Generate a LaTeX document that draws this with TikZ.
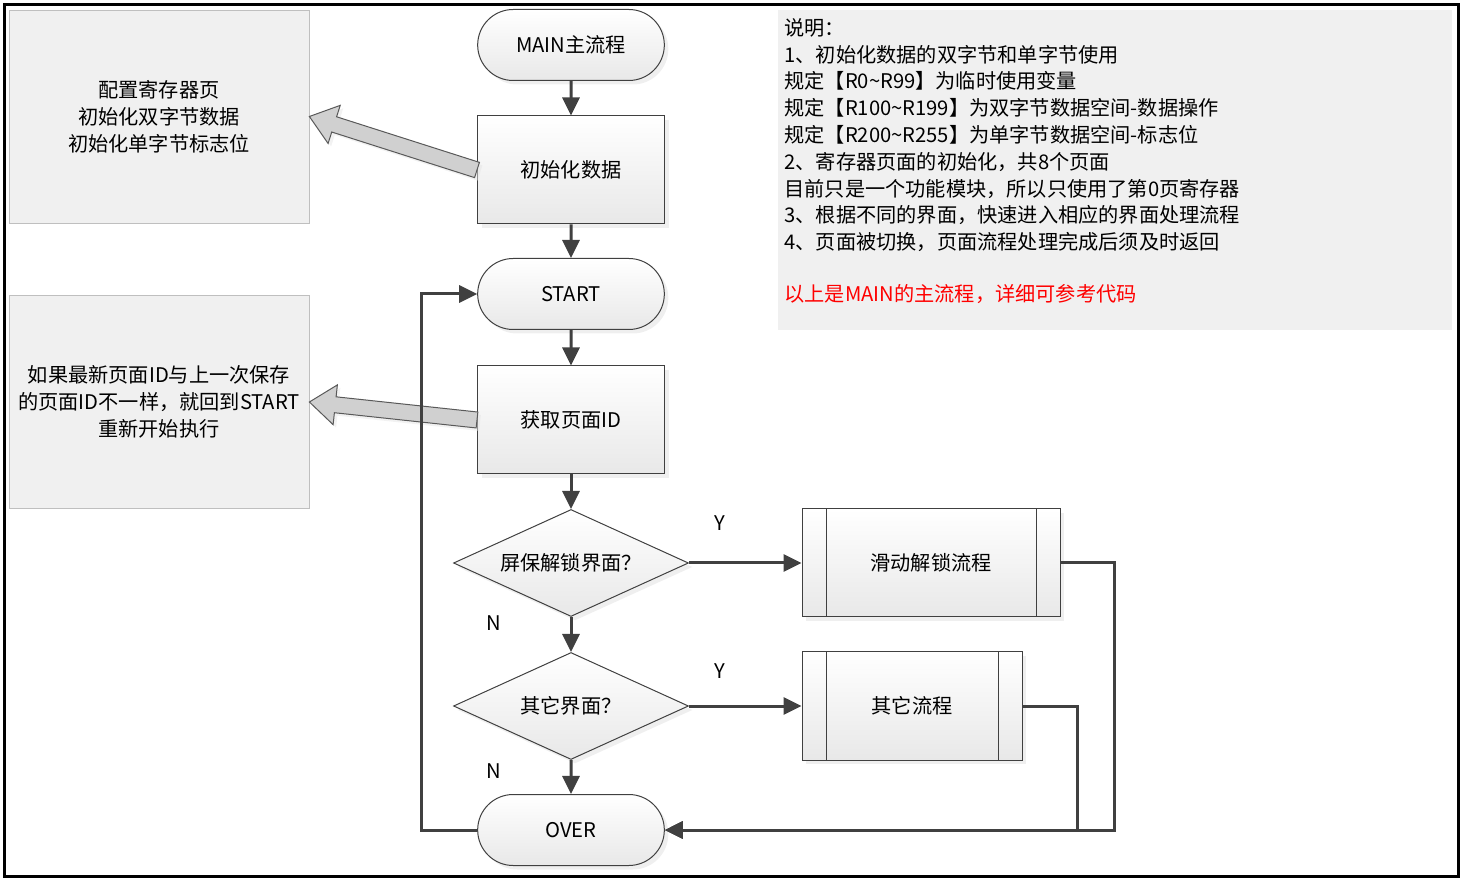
\documentclass[tikz,border=0pt]{standalone}
\usepackage{fontspec}
\setmainfont{Noto Sans CJK SC}
\usetikzlibrary{shapes.geometric, shapes.misc, arrows.meta, positioning, calc, shadows}
\definecolor{linegray}{HTML}{404040}
\definecolor{notegray}{HTML}{F0F0F0}
\definecolor{noteedge}{HTML}{BFBFBF}
\definecolor{fatgray}{HTML}{D0D0D0}
\tikzset{
  every node/.style={font=\fontsize{10.1}{13.4}\selectfont},
  shaded/.style={top color=white, bottom color=black!9, draw=linegray, line width=0.5pt,
    drop shadow={shadow xshift=2pt, shadow yshift=-2pt, fill=black!12}},
  term/.style={shaded, rounded rectangle, minimum width=100pt, minimum height=35.5pt},
  block/.style={shaded, rectangle, minimum width=93.5pt, minimum height=54pt},
  decision/.style={shaded, diamond, aspect=2.2, inner sep=0pt, minimum width=117.5pt, minimum height=53.5pt},
  subproc/.style={shaded, rectangle, minimum height=54pt,
    path picture={\draw[linegray, line width=0.5pt]
      ([xshift=12pt]path picture bounding box.north west) -- ([xshift=12pt]path picture bounding box.south west)
      ([xshift=-12pt]path picture bounding box.north east) -- ([xshift=-12pt]path picture bounding box.south east);}},
  note/.style={draw=noteedge, fill=notegray, rectangle, align=center, minimum width=150pt, minimum height=106.5pt},
  flow/.style={draw=linegray, line width=1.5pt, -{Triangle[length=9pt,width=8.5pt]}},
  fatarrow/.style={draw=black!65, fill=fatgray, line width=0.5pt, line join=miter,
    drop shadow={shadow xshift=1.5pt, shadow yshift=-1.5pt, fill=black!10}},
}
% broad grey arrow from a box to a note
\newcommand{\fatarrow}[2]{%
  \coordinate (hb) at ($(#2)!13pt!(#1)$);
  \draw[fatarrow] ($(#1)!4pt!90:(#2)$) -- ($(hb)!4pt!90:(#2)$) -- ($(hb)!10pt!90:(#2)$) -- (#2)
    -- ($(hb)!10pt!-90:(#2)$) -- ($(hb)!4pt!-90:(#2)$) -- ($(#1)!4pt!-90:(#2)$) -- cycle;}

\begin{document}
\begin{tikzpicture}[x=0.5pt, y=-0.5pt, node distance=62.5pt]
    \useasboundingbox (0,0) rectangle (1462,881);
    \draw[line width=1.5pt] (4,5) rectangle (1458,876);

    % main flow
    \node[term] (main) at (571,45) {MAIN主流程};
    \node[block, below of=main] (init) {初始化数据};
    \node[term, below of=init, node distance=62pt] (start) {START};
    \node[block, below of=start, node distance=63pt] (getid) {获取页面ID};
    \node[decision, below of=getid, node distance=71.5pt] (scr) {屏保解锁界面？};
    \node[decision, below of=scr, node distance=71.5pt] (other) {其它界面？};
    \node[term, below of=other, node distance=62pt] (over) {OVER};
    \node[subproc, right of=scr, node distance=180pt, minimum width=129pt] (unlock) {滑动解锁流程};
    \node[subproc, right of=other, node distance=170.5pt, minimum width=110pt] (otherp) {其它流程};

    % labels
    \node (y1) at (720,523) {Y};
    \node (y2) at (720,671) {Y};
    \node (n1) at (494,623) {N};
    \node (n2) at (494,771) {N};

    % notes
    \node[note] (cfg) at (159,116.5) {配置寄存器页\\初始化双字节数据\\初始化单字节标志位};
    \node[note] (chk) at (159,402) {如果最新页面ID与上一次保存\\的页面ID不一样，就回到START\\重新开始执行};
    \node[fill=notegray, minimum width=337pt, minimum height=160pt, anchor=north west] (memobg) at (778,10) {};
    \node[anchor=north west, align=left, inner sep=0pt] (memo) at ([shift={(3pt,-4pt)}]memobg.north west)
      {说明：\\
       1、初始化数据的双字节和单字节使用\\
       规定【R0\textasciitilde R99】为临时使用变量\\
       规定【R100\textasciitilde R199】为双字节数据空间-数据操作\\
       规定【R200\textasciitilde R255】为单字节数据空间-标志位\\
       2、寄存器页面的初始化，共8个页面\\
       目前只是一个功能模块，所以只使用了第0页寄存器\\
       3、根据不同的界面，快速进入相应的界面处理流程\\
       4、页面被切换，页面流程处理完成后须及时返回\\[12.5pt]
       \textcolor{red}{以上是MAIN的主流程，详细可参考代码}};

    \fatarrow{init.west}{cfg.east}
    \fatarrow{getid.west}{chk.east}

    \draw[flow] (main) -- (init);
    \draw[flow] (init) -- (start);
    \draw[flow] (start) -- (getid);
    \draw[flow] (getid) -- (scr);
    \draw[flow] (scr) -- (other);
    \draw[flow] (other) -- (over);
    \draw[flow] (scr) -- (unlock);
    \draw[flow] (other) -- (otherp);
    \draw[flow] (unlock.east) -- ++(54,0) |- (over.east);
    \draw[flow] (otherp.east) -- ++(55,0) |- (over.east);
    \draw[flow] (over.west) -- ++(-56,0) |- (start.west);
\end{tikzpicture}
\end{document}
